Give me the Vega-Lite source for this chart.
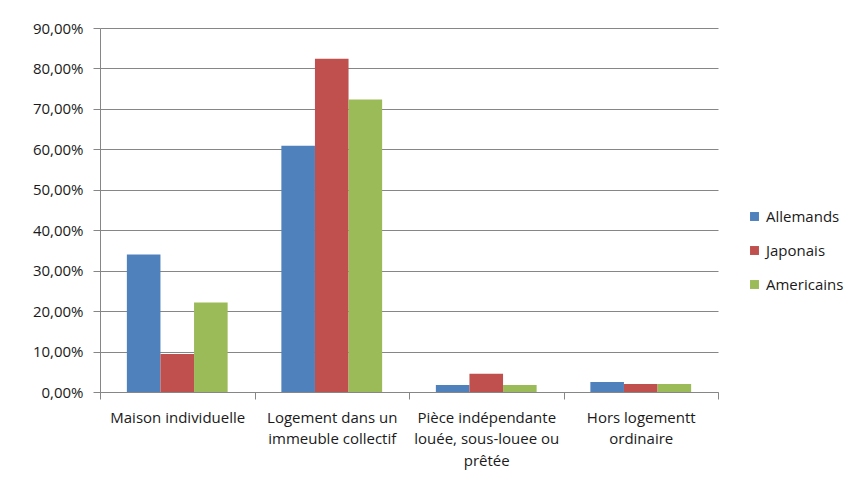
{
  "$schema": "https://vega.github.io/schema/vega-lite/v6.json",
  "autosize": "none",
  "width": 618,
  "height": 364,
  "padding": {"left": 100, "top": 28, "right": 132, "bottom": 98},
  "background": "white",
  "config": {
    "locale": {"number": {"decimal": ",", "thousands": " ", "grouping": [3], "currency": ["", " €"]}},
    "view": {"stroke": null},
    "font": "Open Sans"
  },
  "data": {
    "values": [
      {"categorie": "Maison individuelle", "groupe": "Allemands", "part": 0.340},
      {"categorie": "Maison individuelle", "groupe": "Japonais", "part": 0.094},
      {"categorie": "Maison individuelle", "groupe": "Americains", "part": 0.221},
      {"categorie": "Logement dans un immeuble collectif", "groupe": "Allemands", "part": 0.609},
      {"categorie": "Logement dans un immeuble collectif", "groupe": "Japonais", "part": 0.824},
      {"categorie": "Logement dans un immeuble collectif", "groupe": "Americains", "part": 0.723},
      {"categorie": "Pièce indépendante louée, sous-louee ou prêtée", "groupe": "Allemands", "part": 0.017},
      {"categorie": "Pièce indépendante louée, sous-louee ou prêtée", "groupe": "Japonais", "part": 0.045},
      {"categorie": "Pièce indépendante louée, sous-louee ou prêtée", "groupe": "Americains", "part": 0.017},
      {"categorie": "Hors logementt ordinaire", "groupe": "Allemands", "part": 0.025},
      {"categorie": "Hors logementt ordinaire", "groupe": "Japonais", "part": 0.020},
      {"categorie": "Hors logementt ordinaire", "groupe": "Americains", "part": 0.020}
    ]
  },
  "mark": {"type": "bar"},
  "encoding": {
    "x": {
      "field": "categorie",
      "type": "nominal",
      "sort": null,
      "scale": {"paddingInner": 0, "paddingOuter": 0},
      "axis": {
        "title": null,
        "labelAngle": 0,
        "tickBand": "extent",
        "tickSize": 7,
        "tickColor": "#868686",
        "domainColor": "#868686",
        "labelColor": "#1a1a1a",
        "labelFontSize": 15,
        "labelPadding": 11,
        "labelLineHeight": 21.5,
        "labelLimit": 0,
        "labelOverlap": false,
        "labelExpr": "datum.value == 'Logement dans un immeuble collectif' ? ['Logement dans un', 'immeuble collectif'] : datum.value == 'Pièce indépendante louée, sous-louee ou prêtée' ? ['Pièce indépendante', 'louée, sous-louee ou', 'prêtée'] : datum.value == 'Hors logementt ordinaire' ? ['Hors logementt', 'ordinaire'] : datum.value"
      }
    },
    "xOffset": {
      "field": "groupe",
      "type": "nominal",
      "sort": ["Allemands", "Japonais", "Americains"],
      "scale": {"paddingInner": 0, "paddingOuter": 0.8}
    },
    "y": {
      "field": "part",
      "type": "quantitative",
      "scale": {"domain": [0, 0.9]},
      "axis": {
        "title": null,
        "format": ".2%",
        "values": [0, 0.1, 0.2, 0.3, 0.4, 0.5, 0.6, 0.7, 0.8, 0.9],
        "labelOverlap": false,
        "tickSize": 7,
        "labelPadding": 10,
        "tickColor": "#868686",
        "domainColor": "#868686",
        "gridColor": "#868686",
        "gridOpacity": 1,
        "labelColor": "#1a1a1a",
        "labelFontSize": 15
      }
    },
    "color": {
      "field": "groupe",
      "type": "nominal",
      "sort": ["Allemands", "Japonais", "Americains"],
      "scale": {"domain": ["Allemands", "Japonais", "Americains"], "range": ["#4F81BD", "#C0504D", "#9BBB59"]},
      "legend": {
        "title": null,
        "orient": "none",
        "legendX": 647,
        "legendY": 181,
        "symbolType": "square",
        "symbolSize": 80,
        "symbolStrokeWidth": 0,
        "labelFontSize": 15,
        "labelColor": "#1a1a1a",
        "rowPadding": 18,
        "labelOffset": 4
      }
    }
  }
}
